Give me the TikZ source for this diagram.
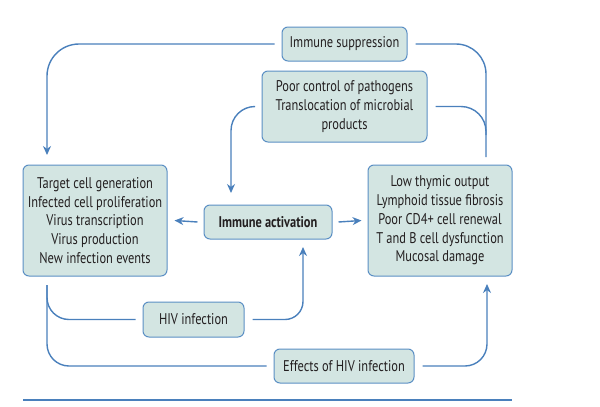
\documentclass[tikz,border=0pt]{standalone}
\usepackage{fontspec}
\setmainfont[FakeStretch=0.8]{PT Sans}
\usetikzlibrary{arrows.meta,
    positioning,
    calc}

\definecolor{flowblue}{HTML}{4A80BC}
\definecolor{boxfill}{HTML}{D3E5E2}
\definecolor{boxline}{HTML}{5B8FC4}
\definecolor{txtgrey}{HTML}{231F20}

\begin{document}
\begin{tikzpicture} [x = 1pt, y = -1pt,
    > = {Stealth[length=9pt, width=8pt]},
    every node/.style = {font = \fontsize{15.5}{18.7}\selectfont, text = txtgrey},
    box/.style = {draw = boxline, line width = 1pt, fill = boxfill,
        rounded corners = 6pt, align = center, inner sep = 0pt},
    link/.style = {draw = flowblue, line width = 1.4pt, rounded corners = #1},
    link/.default = 20pt]
\useasboundingbox (0,0) rectangle (600,407);

\node[box, minimum width=125pt, minimum height=34pt] (sup) at (344.5,44) {Immune suppression};
\node[box, minimum width=165pt, minimum height=71pt] (poor) at (344.5,106.5)
    {Poor control of pathogens\\Translocation of microbial\\products};
\node[box, minimum width=144pt, minimum height=111pt] (target) at (95,220.5)
    {Target cell generation\\Infected cell proliferation\\Virus transcription\\Virus production\\New infection events};
\node[box, minimum width=128pt, minimum height=34pt] (act) at (268,222) {\bfseries Immune activation};
\node[box, minimum width=144pt, minimum height=111pt] (damage) at (440,220.5)
    {Low thymic output\\Lymphoid tissue fibrosis\\Poor CD4+ cell renewal\\T and B cell dysfunction\\Mucosal damage};
\node[box, minimum width=101pt, minimum height=35pt] (hiv) at (193.5,319.5) {HIV infection};
\node[box, minimum width=140pt, minimum height=34pt] (eff) at (344,366) {Effects of HIV infection};

% free ends of the connectors
\coordinate (tgtin) at (47,155);
\coordinate (tgtout) at (47,285);
\coordinate (rightend) at (486,157);
\coordinate (merge) at (486,135);
\coordinate (actin) at (231,193);
\coordinate (actbelow) at (303,247);
\coordinate (dmgbelow) at (487,284);

\draw[link=32pt, ->] ([xshift=-7pt]sup.west) -| (tgtin);
\draw[link=30pt] ([xshift=8pt]sup.east) -| (rightend);
\draw[link=25pt] ([xshift=8pt]poor.east) -| (merge);
\draw[link=24pt, ->] ([xshift=-7pt]poor.west) -| (actin);

\draw[link, ->] ([xshift=-6pt]act.west) -- ([xshift=7pt]target.east);
\draw[link, ->] ([xshift=6pt]act.east) -- ([xshift=-6pt]damage.west);

\draw[link=22pt] (tgtout) |- ([xshift=-7pt]hiv.west);
\draw[link=22pt] (tgtout) |- ([xshift=-7pt]eff.west);
\draw[link=18pt, ->] ([xshift=8pt]hiv.east) -| (actbelow);
\draw[link=22pt, ->] ([xshift=8pt]eff.east) -| (dmgbelow);

\draw[flowblue, line width=2.5pt] (23,400) -- (512,400);
\end{tikzpicture}
\end{document}
